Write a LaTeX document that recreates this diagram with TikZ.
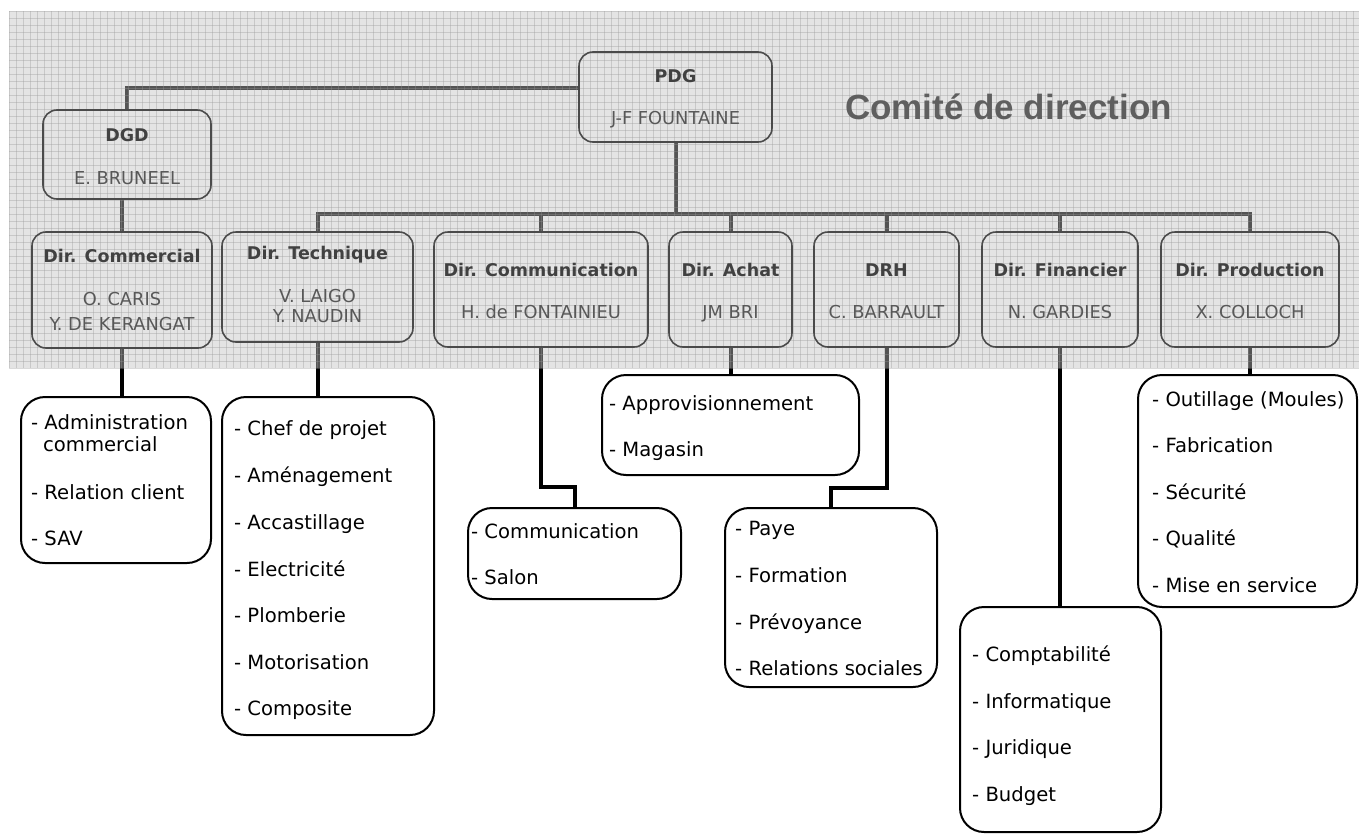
\documentclass[tikz,border=0pt]{standalone}
\usepackage{fontspec}
\setmainfont{DejaVu Sans}
\newfontfamily\titlefont{Liberation Sans}
\usetikzlibrary{calc}
\pgfdeclarelayer{conn}
\pgfdeclarelayer{band}
\pgfsetlayers{conn,band,main}
\definecolor{boxgray}{RGB}{75,75,75}
\definecolor{titlegray}{RGB}{65,65,65}
\definecolor{namegray}{RGB}{88,88,88}
\definecolor{bandfill}{RGB}{193,193,193}
\definecolor{gridc}{RGB}{150,150,150}
\definecolor{bigtitle}{RGB}{95,95,95}
\begin{document}
\begin{tikzpicture}[x=1pt,y=-1pt,
 tbox/.style={draw=boxgray, line width=1.6pt, rounded corners=14pt, inner sep=0pt},
 lbox/.style={draw=black, line width=2pt, fill=white, rounded corners=24pt, inner sep=0pt},
 conn/.style={line width=4pt, draw=black},
 ttl/.style={inner sep=0pt, text height=12.8pt, text depth=0pt, font=\fontsize{17.5}{20}\selectfont\bfseries, text=titlegray},
 nam/.style={inner sep=0pt, text height=13pt, text depth=0pt, font=\fontsize{17.8}{20}\selectfont, text=namegray},
 itm/.style={anchor=west, inner sep=0pt, text height=14.3pt, text depth=0pt, font=\fontsize{19.6}{22}\selectfont, text=black},
 gline/.style={draw=gridc, draw opacity=0.35, line width=0.8pt},
]
\useasboundingbox (0,0) rectangle (1359,835);

% top boxes
\node[tbox, minimum width=193pt, minimum height=90pt]  (pdg)   at (675.5,97)  {};
\node[tbox, minimum width=168pt, minimum height=89pt]  (dgd)   at (127,154.5) {};
\node[tbox, minimum width=180pt, minimum height=116pt] (dcom)  at (122,290)   {};
\node[tbox, minimum width=191pt, minimum height=110pt] (dtec)  at (317.5,287) {};
\node[tbox, minimum width=214pt, minimum height=115pt] (dcomm) at (541,289.5) {};
\node[tbox, minimum width=123pt, minimum height=115pt] (dach)  at (730.5,289.5) {};
\node[tbox, minimum width=145pt, minimum height=115pt] (drh)   at (886.5,289.5) {};
\node[tbox, minimum width=156pt, minimum height=115pt] (dfin)  at (1060,289.5) {};
\node[tbox, minimum width=178pt, minimum height=115pt] (dprod) at (1250,289.5) {};

% top texts
\node[ttl] (pdgT) at (675.5,76) {PDG};
\node[nam] (pdgN) at (675.5,118) {J-F FOUNTAINE};
\node[ttl] (dgdT) at (127,135) {DGD};
\node[nam] (dgdN) at (127,177.5) {E. BRUNEEL};
\node[ttl] (dcomT) at (122,256) {Dir. Commercial};
\node[nam] (dcomN1) at (122,299) {O. CARIS};
\node[nam] (dcomN2) at (122,323.5) {Y. DE KERANGAT};
\node[ttl] (dtecT) at (317.5,253.5) {Dir. Technique};
\node[nam] (dtecN1) at (317.5,296) {V. LAIGO};
\node[nam] (dtecN2) at (317.5,315.5) {Y. NAUDIN};
\node[ttl] (dcommT) at (541,270) {Dir. Communication};
\node[nam] (dcommN) at (541,311.5) {H. de FONTAINIEU};
\node[ttl] (dachT) at (730.5,270) {Dir. Achat};
\node[nam] (dachN) at (730.5,311.5) {JM BRI};
\node[ttl] (drhT) at (886.5,270) {DRH};
\node[nam] (drhN) at (886.5,311.5) {C. BARRAULT};
\node[ttl] (dfinT) at (1060,270) {Dir. Financier};
\node[nam] (dfinN) at (1060,311.5) {N. GARDIES};
\node[ttl] (dprodT) at (1250,270) {Dir. Production};
\node[nam] (dprodN) at (1250,311.5) {X. COLLOCH};

\node[anchor=base east, inner sep=0pt, font=\titlefont\bfseries\fontsize{35}{40}\selectfont, text=bigtitle] (comite) at (1172,119) {Comité de direction};

% lower boxes
\node[lbox, minimum width=190pt, minimum height=166pt] (admin)   at (116,480)    {};
\node[lbox, minimum width=212pt, minimum height=338pt] (tech)    at (328,566)    {};
\node[lbox, minimum width=213pt, minimum height=91pt]  (commbox) at (574.5,553.5) {};
\node[lbox, minimum width=257pt, minimum height=100pt] (achbox)  at (730.5,425)  {};
\node[lbox, minimum width=212pt, minimum height=179pt] (drhbox)  at (831,597.5)  {};
\node[lbox, minimum width=201pt, minimum height=225pt] (finbox)  at (1060.5,719.5) {};
\node[lbox, minimum width=219pt, minimum height=232pt] (prodbox) at (1247.5,491) {};

% lower texts
\node[itm] (a1) at (31,422) {- Administration};
\node[itm] (a2) at (43,444) {commercial};
\node[itm] (a3) at (31,492) {- Relation client};
\node[itm] (a4) at (31,538) {- SAV};

\node[itm] (b1) at (234,428) {- Chef de projet};
\node[itm] (b2) at (234,475) {- Aménagement};
\node[itm] (b3) at (234,522) {- Accastillage};
\node[itm] (b4) at (234,569) {- Electricité};
\node[itm] (b5) at (234,615) {- Plomberie};
\node[itm] (b6) at (234,662) {- Motorisation};
\node[itm] (b7) at (234,708) {- Composite};

\node[itm] (c1) at (471,531) {- Communication};
\node[itm] (c2) at (471,577) {- Salon};

\node[itm] (d1) at (609,403) {- Approvisionnement};
\node[itm] (d2) at (609,449.5) {- Magasin};

\node[itm] (e1) at (735,528) {- Paye};
\node[itm] (e2) at (735,575) {- Formation};
\node[itm] (e3) at (735,622) {- Prévoyance};
\node[itm] (e4) at (735,668) {- Relations sociales};

\node[itm] (f1) at (972,654.5) {- Comptabilité};
\node[itm] (f2) at (972,701) {- Informatique};
\node[itm] (f3) at (972,747.5) {- Juridique};
\node[itm] (f4) at (972,794.5) {- Budget};

\node[itm] (g1) at (1152,399) {- Outillage (Moules)};
\node[itm] (g2) at (1152,445) {- Fabrication};
\node[itm] (g3) at (1152,492) {- Sécurité};
\node[itm] (g4) at (1152,538) {- Qualité};
\node[itm] (g5) at (1152,585) {- Mise en service};

% connectors
\begin{pgfonlayer}{conn}
\coordinate (bar) at (0,214);
\coordinate (cbend) at (560,487);
\coordinate (dbend) at (860,488);
\draw[conn] ([yshift=9pt]pdg.west) -| (dgd.north);
\draw[conn] (dgd.south -| dcom.north) -- (dcom.north);
\draw[conn] (pdg.south) -- (pdg.south |- bar);
\draw[conn] (dtec.north) -- (dtec.north |- bar) -- (dprod.north |- bar) -- (dprod.north);
\foreach \n in {dcomm,dach,drh,dfin} \draw[conn] (\n.north |- bar) -- (\n.north);
\draw[conn] (dcom.south) -- (dcom.south |- admin.north);
\draw[conn] (dtec.south) -- (dtec.south |- tech.north);
\draw[conn] (dcomm.south) |- (cbend) -| (commbox.north);
\draw[conn] (dach.south) -- (achbox.north);
\draw[conn] (drh.south) |- (dbend) -| (drhbox.north);
\draw[conn] (dfin.south) -- (dfin.south |- finbox.north);
\draw[conn] (dprod.south) -- (dprod.south |- prodbox.north);
\end{pgfonlayer}

% textured band overlay
\begin{pgfonlayer}{band}
\fill[bandfill, fill opacity=0.44] (9,11) rectangle (1359,368);
\foreach \x in {9,16,...,1359} \draw[gline] (\x,11) -- (\x,368);
\foreach \y in {11,18,...,368} \draw[gline] (9,\y) -- (1359,\y);
\end{pgfonlayer}
\end{tikzpicture}
\end{document}
